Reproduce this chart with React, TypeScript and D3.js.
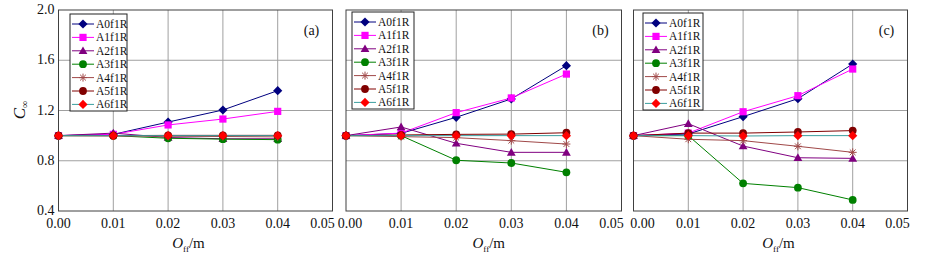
import React from "react";
import * as d3 from "d3";

const xValues = [0, 0.01, 0.02, 0.03, 0.04];
const xTicks = [0, 0.01, 0.02, 0.03, 0.04, 0.05];
const yTicks = [0.4, 0.8, 1.2, 1.6, 2.0];
const seriesNames = ["A0f1R", "A1f1R", "A2f1R", "A3f1R", "A4f1R", "A5f1R", "A6f1R"];
const panelLabels = ["(a)", "(b)", "(c)"];

// values per panel, per series
const panelA = [
  [1.0, 1.01, 1.108, 1.204, 1.358],
  [1.0, 1.01, 1.085, 1.132, 1.193],
  [1.0, 1.02, 0.985, 0.975, 0.975],
  [1.0, 1.0, 0.979, 0.972, 0.968],
  [1.0, 0.998, 0.995, 0.993, 0.99],
  [1.0, 1.0, 1.002, 1.002, 1.002],
  [1.0, 1.0, 1.0, 1.0, 1.0],
];
const panelB = [
  [1.0, 1.018, 1.146, 1.292, 1.557],
  [1.0, 1.02, 1.183, 1.3, 1.49],
  [1.0, 1.069, 0.939, 0.867, 0.867],
  [1.0, 1.0, 0.804, 0.782, 0.708],
  [1.0, 0.992, 0.984, 0.96, 0.933],
  [1.0, 1.005, 1.01, 1.012, 1.023],
  [1.0, 1.0, 1.0, 1.0, 1.0],
];
const panelC = [
  [1.0, 1.013, 1.151, 1.294, 1.57],
  [1.0, 1.02, 1.19, 1.318, 1.53],
  [1.0, 1.095, 0.917, 0.824, 0.819],
  [1.0, 1.0, 0.62, 0.586, 0.488],
  [1.0, 0.971, 0.96, 0.915, 0.867],
  [1.0, 1.02, 1.02, 1.029, 1.04],
  [1.0, 1.0, 0.997, 1.0, 1.0],
];
const panelData = [panelA, panelB, panelC];

const lineColors = ["#00007f", "#ff00ff", "#800080", "#008000", "#a04848", "#800000", "#3a9e9e"];
const markerColors = ["#00007f", "#ff00ff", "#800080", "#008000", "#a04848", "#800000", "#ff0000"];
const markerShapes = ["diamond", "square", "triangle", "circle", "star", "circle", "diamond"];

const panels = [
  { left: 58.5, right: 332.5, legX: 70, legY: 14, legW: 57, titleDx: -7, firstDx: 0 },
  { left: 346, right: 621.5, legX: 352, legY: 12, legW: 62, titleDx: 5, firstDx: 4 },
  { left: 633.5, right: 907.5, legX: 643, legY: 13, legW: 60, titleDx: 8, firstDx: 9 },
];
const top = 10;
const bottom = 211;
const serifStyle = { fontFamily: '"Liberation Serif", "Times New Roman", Times, serif' };
const ink = "#111";

function Marker({ shape, x, y, color }: { shape: string; x: number; y: number; color: string }) {
  if (shape === "diamond") {
    const r = 4.6;
    return <path d={`M${x},${y - r}L${x + r},${y}L${x},${y + r}L${x - r},${y}Z`} fill={color} />;
  }
  if (shape === "square") {
    const s = 3.6;
    return <rect x={x - s} y={y - s} width={2 * s} height={2 * s} fill={color} />;
  }
  if (shape === "triangle") {
    const r = 4.4;
    return <path d={`M${x},${y - r}L${x + r},${y + r * 0.75}L${x - r},${y + r * 0.75}Z`} fill={color} />;
  }
  if (shape === "circle") {
    return <circle cx={x} cy={y} r={3.9} fill={color} />;
  }
  const r = 4;
  const d = r * 0.72;
  return (
    <path
      d={`M${x - r},${y}L${x + r},${y}M${x},${y - r}L${x},${y + r}M${x - d},${y - d}L${x + d},${y + d}M${x - d},${y + d}L${x + d},${y - d}`}
      stroke={color}
      strokeWidth={1}
      fill="none"
    />
  );
}

function Panel({ idx }: { idx: number }) {
  const p = panels[idx];
  const data = panelData[idx];
  const x = d3.scaleLinear().domain([0, 0.05]).range([p.left, p.right]);
  const y = d3.scaleLinear().domain([0.4, 2.0]).range([bottom, top]);
  const line = d3
    .line<number>()
    .x((_, i) => x(xValues[i]))
    .y((v) => y(v));
  return (
    <g>
      <rect x={p.left} y={top} width={p.right - p.left} height={bottom - top} fill="#fff" />
      {xTicks.slice(1, -1).map((t) => (
        <line key={"gx" + t} x1={x(t)} x2={x(t)} y1={top} y2={bottom} stroke="#a0a0a0" strokeWidth={1} />
      ))}
      {yTicks.slice(1, -1).map((t) => (
        <line key={"gy" + t} x1={p.left} x2={p.right} y1={y(t)} y2={y(t)} stroke="#a0a0a0" strokeWidth={1} />
      ))}
      <rect x={p.left} y={top} width={p.right - p.left} height={bottom - top} fill="none" stroke="#404040" strokeWidth={1} />
      {xTicks.map((t, i) => {
        let dx = 0;
        if (i === 0) dx = p.firstDx;
        if (i === xTicks.length - 1) dx = -10;
        return (
          <text key={"xt" + t} x={x(t) + dx} y={228} textAnchor="middle" style={serifStyle} fontSize={14} fill={ink}>
            {t.toFixed(2)}
          </text>
        );
      })}
      {idx === 0 &&
        yTicks.map((t) => (
          <text key={"yt" + t} x={p.left - 4} y={y(t) + 4} textAnchor="end" style={serifStyle} fontSize={14} fill={ink}>
            {t.toFixed(1)}
          </text>
        ))}
      <text x={(p.left + p.right) / 2 + p.titleDx} y={248} textAnchor="middle" style={serifStyle} fontSize={15} fill={ink}>
        <tspan fontStyle="italic">O</tspan>
        <tspan fontSize={9} dy={4}>ff</tspan>
        <tspan dy={-4}>/m</tspan>
      </text>
      {data.map((vals, s) => (
        <path key={"l" + s} d={line(vals) || ""} fill="none" stroke={lineColors[s]} strokeWidth={1} />
      ))}
      {data.map((vals, s) =>
        vals.map((v, i) => (
          <Marker key={"m" + s + "-" + i} shape={markerShapes[s]} x={x(xValues[i])} y={y(v)} color={markerColors[s]} />
        ))
      )}
      <text x={p.right - 21} y={35} textAnchor="middle" style={serifStyle} fontSize={14} fill={ink}>
        {panelLabels[idx]}
      </text>
      <rect x={p.legX} y={p.legY} width={p.legW} height={97} fill="#fff" stroke="#222" strokeWidth={1} />
      {seriesNames.map((name, s) => {
        const ly = p.legY + 10 + s * 13.4;
        const lx = p.legX + 2;
        return (
          <g key={"lg" + s}>
            <line x1={lx} x2={lx + 22} y1={ly} y2={ly} stroke={lineColors[s]} strokeWidth={1} />
            <Marker shape={markerShapes[s]} x={lx + 11} y={ly} color={markerColors[s]} />
            <text x={lx + 24} y={ly + 4} style={serifStyle} fontSize={11.5} fill={ink}>
              {name}
            </text>
          </g>
        );
      })}
    </g>
  );
}

export default function App() {
  return (
    <svg
      width={927}
      height={257}
      style={{ position: "absolute", left: 0, top: 0, background: "#fff" }}
    >
      <rect width={927} height={257} fill="#fff" />
      <text transform="translate(25,110) rotate(-90)" textAnchor="middle" style={serifStyle} fontSize={17} fill={ink}>
        <tspan fontStyle="italic">C</tspan>
        <tspan fontSize={10} dy={3}>∞</tspan>
      </text>
      {panels.map((_, i) => (
        <Panel key={i} idx={i} />
      ))}
    </svg>
  );
}
